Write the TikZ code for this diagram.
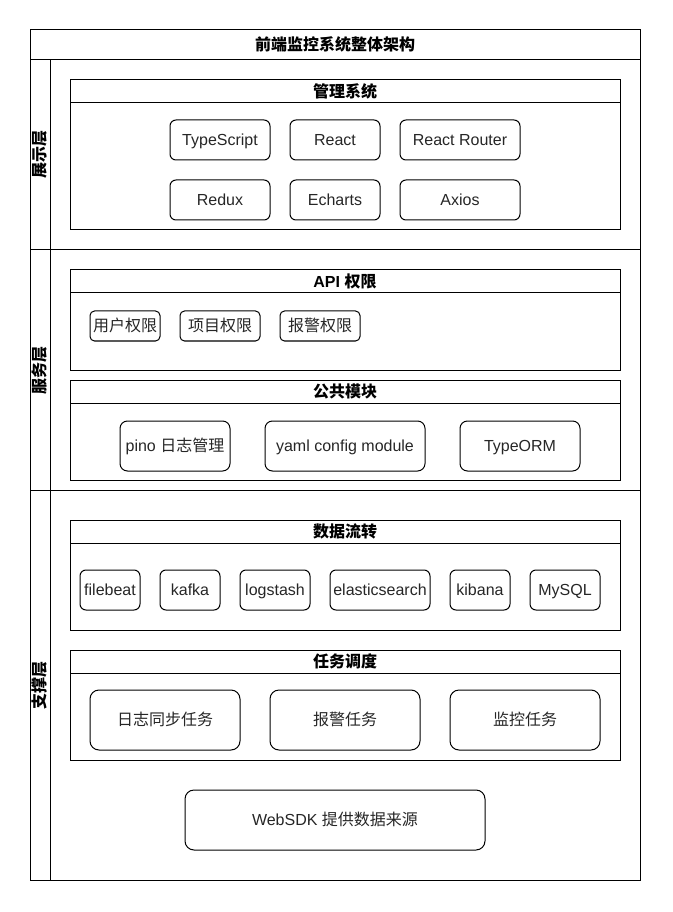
\documentclass[tikz,border=0pt]{standalone}
\usepackage{fontspec}
\setmainfont{Liberation Sans}
\newfontfamily\cjk{Noto Sans CJK SC}
\newcommand\fr[7][]{\node[frame,#1,minimum width={(#5-#3)*0.75pt},minimum height={(#6-#4)*0.75pt}] (#2) at (#3,#4) {#7};}
\newcommand\bx[7][]{\node[box,#1,minimum width={(#5-#3)*0.75pt},minimum height={(#6-#4)*0.75pt}] (#2) at ({(#3+#5)/2},{(#4+#6)/2}) {#7};}
\begin{document}
\begin{tikzpicture}[x=0.75pt,y=-0.75pt,line width=0.75pt,
  every node/.style={font=\fontsize{12pt}{14pt}\selectfont,inner sep=0pt,outer sep=0pt,text height=10.6pt,text depth=2.2pt},
  frame/.style={draw,rectangle,anchor=north west},
  hd/.style={font=\fontsize{12pt}{14pt}\selectfont\bfseries},
  box/.style={draw,rectangle,rounded corners=4.5pt,align=center,text=black!85},
  lane/.style={draw,rectangle,rotate=90,minimum height=15pt,font=\fontsize{12pt}{14pt}\selectfont\bfseries}]
\useasboundingbox (0,0) rectangle (672,912);
% outer frame and title
\fr{outer}{30}{30}{640}{880}{}
\fr[hd]{title}{30}{30}{640}{60}{\cjk 前端监控系统整体架构}
% lanes
\fr{lane1}{30}{60}{640}{250}{}
\fr{lane2}{30}{250}{640}{490}{}
\fr{lane3}{30}{490}{640}{880}{}
\node[lane,minimum width=190*0.75pt] (lab1) at (40,155) {\cjk 展示层};
\node[lane,minimum width=240*0.75pt] (lab2) at (40,370) {\cjk 服务层};
\node[lane,minimum width=390*0.75pt] (lab3) at (40,685) {\cjk 支撑层};
% 管理系统
\fr[hd]{mgmth}{70}{80}{620}{103}{\cjk 管理系统}
\fr{mgmtb}{70}{103}{620}{230}{}
\bx[rounded corners=4.5pt]{ts}{170}{120}{270}{160}{TypeScript}
\bx[rounded corners=4.5pt]{react}{290}{120}{380}{160}{React}
\bx[rounded corners=4.5pt]{router}{400}{120}{520}{160}{React Router}
\bx[rounded corners=4.5pt]{redux}{170}{180}{270}{220}{Redux}
\bx[rounded corners=4.5pt]{echarts}{290}{180}{380}{220}{Echarts}
\bx[rounded corners=4.5pt]{axios}{400}{180}{520}{220}{Axios}
% API 权限
\fr[hd]{apih}{70}{270}{620}{293}{API {\cjk 权限}}
\fr{apib}{70}{293}{620}{370}{}
\bx[rounded corners=3.4pt]{user}{90}{311}{160}{341}{\cjk 用户权限}
\bx[rounded corners=3.4pt]{proj}{180}{311}{260}{341}{\cjk 项目权限}
\bx[rounded corners=3.4pt]{alarm}{280}{311}{360}{341}{\cjk 报警权限}
% 公共模块
\fr[hd]{comh}{70}{380}{620}{403}{\cjk 公共模块}
\fr{comb}{70}{403}{620}{480}{}
\bx[rounded corners=5.6pt]{pino}{120}{421}{230}{471}{pino {\cjk 日志管理}}
\bx[rounded corners=5.6pt]{yaml}{265}{421}{425}{471}{yaml config module}
\bx[rounded corners=5.6pt]{orm}{460}{421}{580}{471}{TypeORM}
% 数据流转
\fr[hd]{datah}{70}{520}{620}{543}{\cjk 数据流转}
\fr{datab}{70}{543}{620}{630}{}
\bx[rounded corners=4.5pt]{filebeat}{80}{570}{140}{610}{filebeat}
\bx[rounded corners=4.5pt]{kafka}{160}{570}{220}{610}{kafka}
\bx[rounded corners=4.5pt]{logstash}{240}{570}{310}{610}{logstash}
\bx[rounded corners=4.5pt]{es}{330}{570}{430}{610}{elasticsearch}
\bx[rounded corners=4.5pt]{kibana}{450}{570}{510}{610}{kibana}
\bx[rounded corners=4.5pt]{mysql}{530}{570}{600}{610}{MySQL}
% 任务调度
\fr[hd]{taskh}{70}{650}{620}{673}{\cjk 任务调度}
\fr{taskb}{70}{673}{620}{760}{}
\bx[rounded corners=6.75pt]{sync}{90}{690}{240}{750}{\cjk 日志同步任务}
\bx[rounded corners=6.75pt]{alarmtask}{270}{690}{420}{750}{\cjk 报警任务}
\bx[rounded corners=6.75pt]{montask}{450}{690}{600}{750}{\cjk 监控任务}
% WebSDK
\bx[rounded corners=6.75pt]{sdk}{185}{790}{485}{850}{WebSDK {\cjk 提供数据来源}}
\end{tikzpicture}
\end{document}
